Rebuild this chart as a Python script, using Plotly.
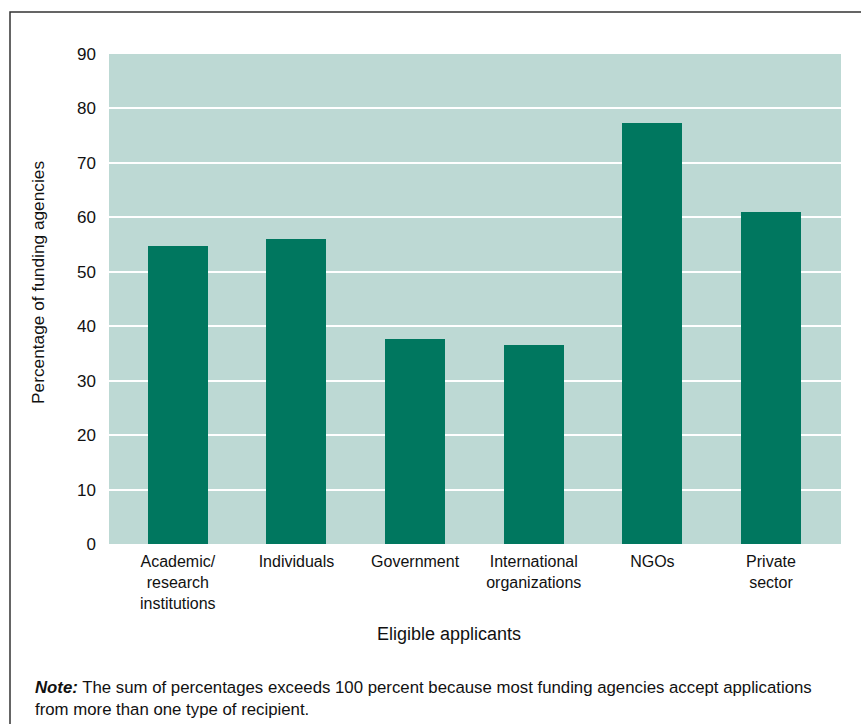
import plotly.graph_objects as go

# Eligible applicant types and share of funding agencies accepting each
categories = [
    "Academic/<br>research<br>institutions",
    "Individuals",
    "Government",
    "International<br>organizations",
    "NGOs",
    "Private<br>sector",
]
percentages = [54.8, 56.1, 37.7, 36.6, 77.4, 60.9]
y_ticks = [0, 10, 20, 30, 40, 50, 60, 70, 80, 90]

note_text = (
    "<b><i>Note:</i></b> The sum of percentages exceeds 100 percent because most funding agencies accept applications"
    "<br>from more than one type of recipient."
)

BAR = "#00775F"
BG = "#BDD9D4"
FONT = "Liberation Sans, Arial, sans-serif"
TEXT = "#111"

W, H = 861, 724
ML, MR, MT, MB = 109, 20, 54, 180
PW, PH = W - ML - MR, H - MT - MB


def px_x(x):
    return (x - ML) / PW


def px_y(y):
    return (H - MB - y) / PH


fig = go.Figure(
    go.Bar(
        x=list(range(len(categories))),
        y=percentages,
        marker=dict(color=BAR, line=dict(width=0)),
        width=0.506,
    )
)

fig.update_layout(
    width=W,
    height=H,
    margin=dict(l=ML, r=MR, t=MT, b=MB),
    paper_bgcolor="white",
    plot_bgcolor=BG,
    showlegend=False,
    font=dict(family=FONT, size=16, color=TEXT),
    bargap=0,
)

fig.update_xaxes(
    tickmode="array",
    tickvals=list(range(len(categories))),
    ticktext=categories,
    range=[-0.58, 5.59],
    showgrid=False,
    zeroline=False,
    showline=False,
    ticks="",
    ticklabelstandoff=6,
    tickfont=dict(size=16, family=FONT, color=TEXT),
)

fig.update_yaxes(
    range=[0, 90],
    tickvals=y_ticks,
    showgrid=True,
    gridcolor="white",
    gridwidth=2,
    zeroline=False,
    showline=False,
    ticks="",
    ticklabelstandoff=12,
    tickfont=dict(size=17, family=FONT, color=TEXT),
)

# Outer frame around the figure
fig.add_shape(
    type="rect",
    xref="paper", yref="paper",
    x0=px_x(10), x1=px_x(880), y0=px_y(740), y1=px_y(12),
    line=dict(color="#333", width=1.5),
    fillcolor="rgba(0,0,0,0)",
    layer="below",
)

fig.add_annotation(
    text="Percentage of funding agencies",
    xref="paper", yref="paper",
    x=px_x(38), y=px_y(283),
    textangle=-90, showarrow=False,
    font=dict(size=17.3, family=FONT, color=TEXT),
    xanchor="center", yanchor="middle",
)

fig.add_annotation(
    text="Eligible applicants",
    xref="paper", yref="paper",
    x=px_x(449), y=px_y(634),
    showarrow=False,
    font=dict(size=18, family=FONT, color=TEXT),
    xanchor="center", yanchor="middle",
)

fig.add_annotation(
    text=note_text,
    xref="paper", yref="paper",
    x=px_x(33), y=px_y(698),
    showarrow=False, align="left",
    font=dict(size=16.8, family=FONT, color=TEXT),
    xanchor="left", yanchor="middle",
)

fig.write_html("out.html")
